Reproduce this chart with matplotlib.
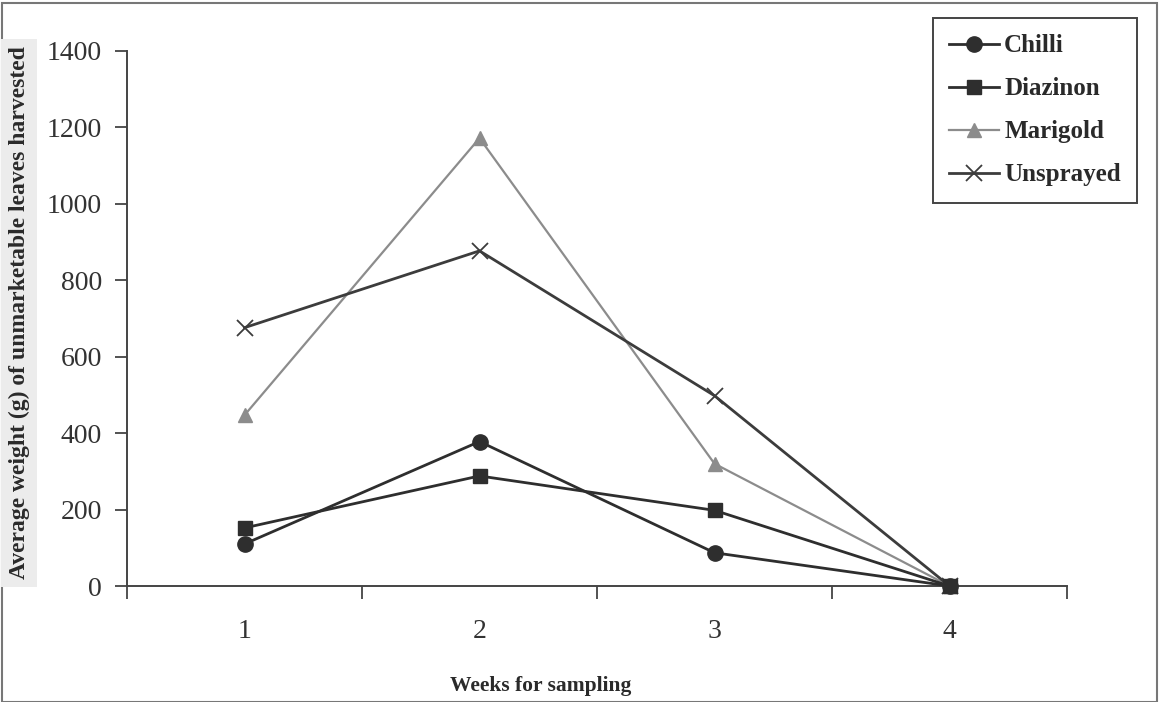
import matplotlib
matplotlib.use("Agg")
import matplotlib.pyplot as plt
from matplotlib.patches import Rectangle

weeks = ["1", "2", "3", "4"]
chilli = [110, 378, 87, 0]
diazinon = [152, 288, 198, 0]
marigold = [447, 1172, 320, 0]
unsprayed = [676, 877, 498, 0]

plt.rcParams['font.family'] = ['Liberation Serif', 'DejaVu Serif']

fig = plt.figure(figsize=(11.59, 7.02), dpi=100)
ax = fig.add_axes([127/1159, 1-586/702, (1067-127)/1159, (586-51)/702])

x = list(range(1, len(weeks)+1))
dark = '#2e2e2e'
gray = '#8c8c8c'
ax.plot(x, chilli, color=dark, lw=2.0, marker='o', ms=11, mfc=dark, mec=dark, label='Chilli', clip_on=False, zorder=4)
ax.plot(x, diazinon, color=dark, lw=2.0, marker='s', ms=10.5, mfc=dark, mec=dark, label='Diazinon', clip_on=False, zorder=4)
ax.plot(x, marigold, color=gray, lw=1.6, marker='^', ms=10.5, mfc=gray, mec=gray, label='Marigold', clip_on=False, zorder=3)
ax.plot(x, unsprayed, color='#3c3c3c', lw=2.0, marker='x', ms=11, mew=1.3, label='Unsprayed', clip_on=False, zorder=3)

ax.set_xlim(0.5, len(weeks)+0.5)
ax.set_ylim(0, 1400)
ax.set_yticks(range(0, 1401, 200))
ax.set_xticks([i + 0.5 for i in range(0, len(weeks)+1)])
ax.set_xticklabels([])
ax.set_xticks(x, minor=True)
ax.set_xticklabels(weeks, minor=True)
ax.tick_params(axis='x', which='minor', length=0, pad=24, labelsize=20)
ax.tick_params(axis='x', which='major', direction='out', length=9, width=1.3, color='#444444')
ax.tick_params(axis='y', direction='out', length=9, width=1.3, color='#444444', labelsize=20, pad=9)
for s in ['top', 'right']:
    ax.spines[s].set_visible(False)
for s in ['left', 'bottom']:
    ax.spines[s].set_color('#444444')
    ax.spines[s].set_linewidth(1.4)
for lab in ax.get_yticklabels() + ax.get_xticklabels(minor=True):
    lab.set_color('#333333')

fig.text(541/1159, 1-686/702, 'Weeks for sampling', ha='center', va='center',
         fontsize=15.5, fontweight='bold', color='#2a2a2a')
fig.text(19/1159, 1-313/702, 'Average weight (g) of unmarketable leaves harvested',
         ha='center', va='center', rotation=90, fontsize=17, fontweight='bold',
         color='#2a2a2a',
         bbox=dict(boxstyle='square,pad=0.3', facecolor='#ececec', edgecolor='none'))

leg = ax.legend(loc='upper left', bbox_to_anchor=(933/1159, 1-18/702),
                bbox_transform=fig.transFigure, borderaxespad=0,
                fancybox=False, framealpha=1, edgecolor='#444444',
                labelspacing=0.8, handlelength=2.0,
                handletextpad=0.2, borderpad=0.65,
                prop={'weight': 'bold', 'size': 18})
leg.get_frame().set_linewidth(1.4)
for t in leg.get_texts():
    t.set_color('#2a2a2a')

fig.patches.append(Rectangle((0.002, 0.0), 0.996, 0.996, transform=fig.transFigure,
                             fill=False, edgecolor='#777777', lw=1.5))

fig.savefig('out.png', dpi=100)
